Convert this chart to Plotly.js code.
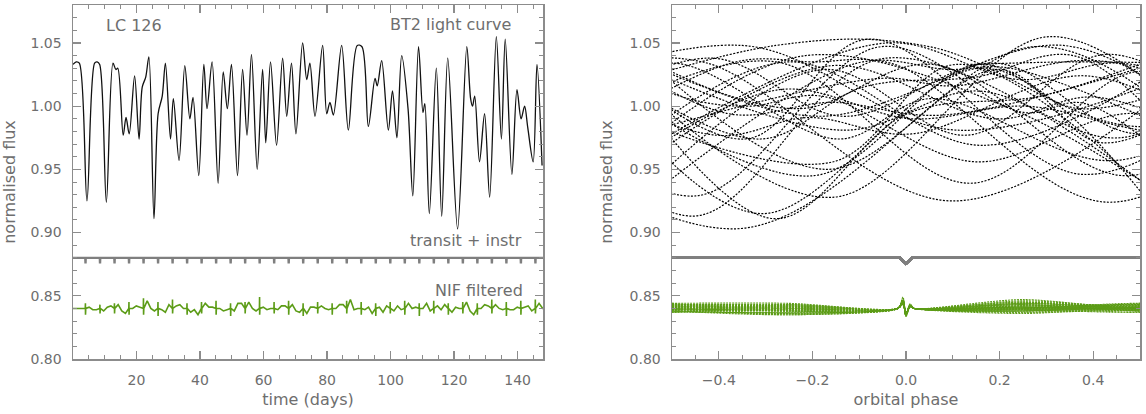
<!DOCTYPE html>
<html><head><meta charset="utf-8">
<script src="https://cdn.plot.ly/plotly-3.0.1.min.js"></script>
<style>html,body{margin:0;padding:0;background:#fff}#chart{width:1146px;height:414px}</style>
</head><body><div id="chart"></div>
<script>
// BT2 light curve (days, normalised flux)
const lcTime = [0, 1.0, 2.0, 4.4, 6.8, 7.6, 8.4, 10.5, 12.6, 13.5, 14.1, 15.8, 16.7, 17.7, 19.4, 20.8, 21.8, 22.9, 23.9, 25.5,
  26.8, 28.1, 29.1, 30.7, 31.6, 33.4, 35.2, 36.8, 37.8, 39.6, 41.2, 42.2, 43.8, 45.7, 47.3, 48.6, 49.9, 51.8, 53.4, 54.8,
  56.2, 58.0, 59.7, 60.7, 62.2, 64.1, 66.0, 67.3, 68.8, 70.2, 72.3, 73.6, 74.6, 76.2, 78.6, 79.9, 80.9, 82.0, 84.6, 86.7,
  89.5, 91.0, 93.0, 95.1, 95.8, 97.2, 99.3, 100.6, 102.0, 103.5, 105.5, 107.0, 108.8, 110.2, 110.8, 112.2, 114.4, 116.1, 118.0, 121.1,
  124.0, 125.2, 125.8, 126.5, 128.0, 129.6, 131.2, 133.3, 134.9, 136.1, 138.2, 139.8, 141.1, 142.2, 143.2, 144.9, 146.1, 147.7];
const lcFlux = [1.033, 1.035, 1.034, 0.925, 1.034, 1.035, 1.033, 0.924, 1.034, 1.029, 1.030, 0.977, 0.991, 0.978, 1.024, 0.974, 1.015, 1.023, 1.039, 0.911,
  0.994, 1.008, 1.034, 0.974, 1.006, 0.957, 1.032, 0.990, 1.007, 0.945, 1.033, 0.998, 1.035, 0.939, 1.027, 0.998, 1.033, 0.945, 1.029, 0.977,
  1.041, 0.950, 1.029, 0.971, 1.035, 0.969, 1.038, 0.992, 1.034, 0.978, 1.050, 1.021, 1.034, 0.992, 1.048, 0.994, 1.003, 0.993, 1.048, 0.981,
  1.048, 1.047, 0.984, 1.022, 1.016, 1.036, 0.981, 1.012, 0.975, 1.040, 0.998, 0.929, 1.047, 0.995, 1.002, 0.915, 1.030, 0.913, 1.038, 0.903,
  1.047, 1.006, 1.000, 1.008, 0.956, 0.994, 0.928, 1.055, 0.974, 1.053, 0.946, 1.013, 0.990, 1.000, 0.983, 0.956, 1.033, 0.953];

// transit times (days) and orbital period read from the "transit + instr" curve
const transitTimes = [3.94, 8.51, 13.08, 17.65, 22.22, 26.79, 31.36, 35.93, 40.50, 45.07, 49.64, 54.21, 58.78, 63.35, 67.92, 72.49,
  77.06, 81.63, 86.20, 90.77, 95.34, 99.91, 104.48, 109.05, 113.62, 118.19, 122.76, 127.33, 131.90, 136.47, 141.04, 145.61];
const orbitalPeriod = 4.57;
const instrLevel = 0.88;
const transitDepth = 0.0045;
const transitHalfWidth = 0.06;

// NIF filtered residuals: offset level, spike heights at each transit,
// and residual levels a quarter, half and three quarters of an orbit after each transit
const nifLevel = 0.84;
const nifSpikeUp = [0.004, 0.003, 0.004, 0.005, 0.008, 0.005, 0.007, 0.004, 0.005, 0.006, 0.004, 0.005, 0.009, 0.005, 0.006, 0.004,
  0.005, 0.004, 0.006, 0.005, 0.004, 0.005, 0.006, 0.004, 0.006, 0.004, 0.005, 0.004, 0.007, 0.005, 0.006, 0.007];
const nifSpikeDown = [0.005, 0.004, 0.004, 0.005, 0.005, 0.006, 0.004, 0.005, 0.004, 0.005, 0.006, 0.004, 0.005, 0.004, 0.005, 0.006,
  0.004, 0.005, 0.004, 0.005, 0.006, 0.004, 0.005, 0.006, 0.004, 0.005, 0.004, 0.005, 0.004, 0.006, 0.005, 0.004];
const nifStart = 0.840;
const nifQ1 = [0.841, 0.838, 0.843, 0.840, 0.846, 0.839, 0.842, 0.837, 0.844, 0.840, 0.838, 0.845, 0.841, 0.839, 0.843, 0.836,
  0.842, 0.840, 0.847, 0.839, 0.841, 0.838, 0.844, 0.840, 0.842, 0.837, 0.845, 0.840, 0.843, 0.839, 0.841, 0.844];
const nifMid = [0.839, 0.841, 0.838, 0.842, 0.840, 0.837, 0.843, 0.839, 0.841, 0.838, 0.844, 0.840, 0.839, 0.842, 0.838, 0.841,
  0.840, 0.843, 0.839, 0.841, 0.837, 0.842, 0.840, 0.844, 0.839, 0.841, 0.838, 0.843, 0.840, 0.839, 0.842, 0.840];
const nifQ3 = [0.839, 0.842, 0.836, 0.841, 0.838, 0.843, 0.840, 0.835, 0.841, 0.839, 0.844, 0.838, 0.840, 0.842, 0.837, 0.841,
  0.839, 0.843, 0.840, 0.836, 0.842, 0.839, 0.841, 0.838, 0.843, 0.840, 0.835, 0.842, 0.839, 0.841, 0.838, 0.840];
const timeRange = [0, 148];

// ---- build series from the arrays ----
const instrT = [timeRange[0]], instrF = [instrLevel];
transitTimes.forEach(tc => {
  instrT.push(tc - transitHalfWidth, tc, tc + transitHalfWidth);
  instrF.push(instrLevel, instrLevel - transitDepth, instrLevel);
});
instrT.push(timeRange[1]); instrF.push(instrLevel);

const nifT = [timeRange[0]], nifF = [nifStart];
transitTimes.forEach((tc, k) => {
  const P = orbitalPeriod;
  nifT.push(tc - 0.08, tc - 0.03, tc, tc + 0.04, tc + 0.08, tc + P / 4, tc + P / 2, tc + 3 * P / 4);
  nifF.push(nifLevel, nifLevel + nifSpikeUp[k], nifLevel - nifSpikeDown[k], nifLevel + 0.4 * nifSpikeUp[k], nifLevel,
    nifQ1[k], nifMid[k], nifQ3[k]);
});

function fold(t, f) {
  const xs = [], ys = [];
  const centers = [transitTimes[0] - orbitalPeriod].concat(transitTimes);
  centers.forEach(tc => {
    const idx = [];
    for (let i = 0; i < t.length; i++) if (Math.abs(t[i] - tc) <= orbitalPeriod / 2) idx.push(i);
    if (!idx.length) return;
    const a = Math.max(0, idx[0] - 1), b = Math.min(t.length - 1, idx[idx.length - 1] + 1);
    for (let i = a; i <= b; i++) { xs.push((t[i] - tc) / orbitalPeriod); ys.push(f[i]); }
    xs.push(null); ys.push(null);
  });
  return { xs, ys };
}
const lcFold = fold(lcTime, lcFlux);
const instrFold = fold(instrT, instrF);
const nifFold = fold(nifT, nifF);

const black = '#111111', grey = '#7f7f7f', green = '#5c9c17';
const traces = [
  { x: lcTime, y: lcFlux, type: 'scatter', mode: 'lines', line: { color: black, width: 1.3, shape: 'spline', smoothing: 0.9 }, xaxis: 'x', yaxis: 'y', hoverinfo: 'skip' },
  { x: instrT, y: instrF, type: 'scatter', mode: 'lines', line: { color: grey, width: 2.4 }, xaxis: 'x', yaxis: 'y', hoverinfo: 'skip' },
  { x: nifT, y: nifF, type: 'scatter', mode: 'lines', line: { color: green, width: 1.6 }, xaxis: 'x', yaxis: 'y', hoverinfo: 'skip' },
  { x: lcFold.xs, y: lcFold.ys, type: 'scatter', mode: 'lines', connectgaps: false, line: { color: '#000', width: 1.2, shape: 'spline', smoothing: 1, dash: '2px,1.5px' }, xaxis: 'x2', yaxis: 'y2', hoverinfo: 'skip' },
  { x: instrFold.xs, y: instrFold.ys, type: 'scatter', mode: 'lines', connectgaps: false, line: { color: grey, width: 2.4 }, xaxis: 'x2', yaxis: 'y2', hoverinfo: 'skip' },
  { x: nifFold.xs, y: nifFold.ys, type: 'scatter', mode: 'lines', connectgaps: false, line: { color: green, width: 1.1, shape: 'spline', smoothing: 0.8, dash: '2px,1px' }, xaxis: 'x2', yaxis: 'y2', hoverinfo: 'skip' }
];

const axCol = '#8c8c8c', txtCol = '#6e6e6e';
const tickFont = { family: 'DejaVu Sans', size: 14, color: txtCol };
const titleFont = { family: 'DejaVu Sans', size: 16, color: txtCol };
function baseAxis() {
  return { showline: true, linecolor: axCol, linewidth: 1.5, mirror: 'allticks', ticks: 'inside', ticklen: 8, tickwidth: 1.2,
    tickcolor: axCol, showgrid: false, zeroline: false, tickfont: tickFont, fixedrange: true };
}
const yTicks = [0.80, 0.85, 0.90, 0.95, 1.00, 1.05];
const yax = () => Object.assign(baseAxis(), { range: [0.80, 1.08], tickvals: yTicks, tickformat: '.2f', ticklabelstandoff: 7,
  minor: { dtick: 0.01, tick0: 0.8, ticks: 'inside', ticklen: 4, tickcolor: axCol, tickwidth: 1 },
  title: { text: 'normalised flux', font: titleFont, standoff: 13 } });

const layout = {
  width: 1146, height: 414, margin: { l: 73, r: 6, t: 5, b: 55 }, showlegend: false,
  paper_bgcolor: '#fff', plot_bgcolor: '#fff',
  xaxis: Object.assign(baseAxis(), { domain: [0, 0.4405], range: timeRange, tickvals: [20, 40, 60, 80, 100, 120, 140], anchor: 'y', ticklabelstandoff: 8,
    minor: { dtick: 5, tick0: 0, ticks: 'inside', ticklen: 4, tickcolor: axCol, tickwidth: 1 },
    title: { text: 'time (days)', font: titleFont, standoff: 6 } }),
  yaxis: Object.assign(yax(), { domain: [0, 1], anchor: 'x' }),
  xaxis2: Object.assign(baseAxis(), { domain: [0.5614, 1], range: [-0.5, 0.5], tick0: 0, dtick: 0.2, tickformat: '.1f', anchor: 'y2', ticklabelstandoff: 8,
    minor: { dtick: 0.05, tick0: 0, ticks: 'inside', ticklen: 4, tickcolor: axCol, tickwidth: 1 },
    title: { text: 'orbital phase', font: titleFont, standoff: 6 } }),
  yaxis2: Object.assign(yax(), { domain: [0, 1], anchor: 'x2' }),
  annotations: [
    { text: 'LC 126', x: 9.9, y: 1.064, xref: 'x', yref: 'y', xanchor: 'left', yanchor: 'middle', showarrow: false, font: titleFont },
    { text: 'BT2 light curve', x: 138.6, y: 1.0646, xref: 'x', yref: 'y', xanchor: 'right', yanchor: 'middle', showarrow: false, font: titleFont },
    { text: 'transit + instr', x: 142.1, y: 0.8937, xref: 'x', yref: 'y', xanchor: 'right', yanchor: 'middle', showarrow: false, font: titleFont },
    { text: 'NIF filtered', x: 142.4, y: 0.8543, xref: 'x', yref: 'y', xanchor: 'right', yanchor: 'middle', showarrow: false, font: titleFont }
  ]
};
Plotly.newPlot('chart', traces, layout, { staticPlot: true, displayModeBar: false });
</script></body></html>
